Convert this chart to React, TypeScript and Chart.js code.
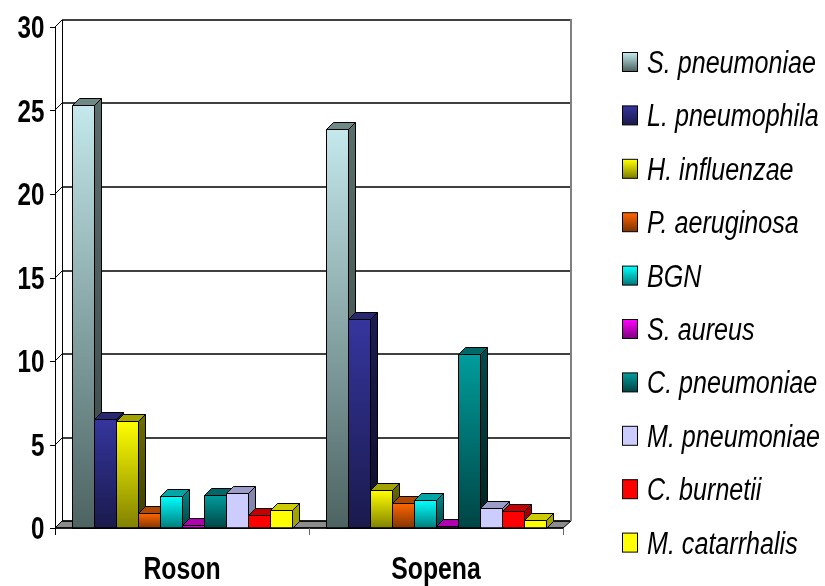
import React, { useEffect, useRef } from 'react';
import { Chart, registerables } from 'chart.js';

Chart.register(...registerables);

// ---- data ----
const categories = ['Roson', 'Sopena'];
const seriesNames = [
  'S. pneumoniae',
  'L. pneumophila',
  'H. influenzae',
  'P. aeruginosa',
  'BGN',
  'S. aureus',
  'C. pneumoniae',
  'M. pneumoniae',
  'C. burnetii',
  'M. catarrhalis',
];
const rosonValues = [25.3, 6.5, 6.4, 0.9, 1.9, 0.2, 2.0, 2.1, 0.8, 1.1];
const sopenaValues = [23.9, 12.5, 2.3, 1.5, 1.7, 0.1, 10.4, 1.2, 1.0, 0.5];
const yTickValues = [0, 5, 10, 15, 20, 25, 30];

// ---- colours per series: front gradient (top -> bottom), top face, side gradient ----
const frontTop = ['#C4E8EC', '#35359E', '#FFFF00', '#FF6600', '#00FFFF', '#FF00FF', '#009C9C', '#CCCCFF', '#FF0000', '#FFFF00'];
const frontBottom = ['#4C6361', '#1A1A4C', '#808000', '#803300', '#007A7A', '#800080', '#004444', '#CCCCFF', '#FF0000', '#FFFF00'];
const topFace = ['#6F8987', '#272772', '#A3A300', '#B34700', '#00A6A6', '#B000B0', '#006868', '#9C9CC8', '#C40000', '#CCCC00'];
const sideTop = ['#5A6E6C', '#1C1C55', '#6E6E00', '#993D00', '#008C8C', '#8C008C', '#004C4C', '#8585AD', '#A00000', '#A3A300'];
const sideBottom = ['#3A4846', '#0E0E2A', '#3A3A00', '#4D1A00', '#004040', '#400040', '#002020', '#8585AD', '#A00000', '#A3A300'];

const FAMILY = "'Liberation Sans', Arial, sans-serif";
const DEPTH = 7;

// condensed text: a sans face squeezed horizontally
function narrowText(
  ctx: CanvasRenderingContext2D,
  text: string,
  x: number,
  y: number,
  font: string,
  scaleX: number,
  align: CanvasTextAlign,
) {
  ctx.save();
  ctx.translate(x, y);
  ctx.scale(scaleX, 1);
  ctx.font = font;
  ctx.textAlign = align;
  ctx.textBaseline = 'alphabetic';
  ctx.fillStyle = '#000';
  ctx.fillText(text, 0, 0);
  ctx.restore();
}

const threeDPlugin = {
  id: 'threeD',
  beforeDatasetsDraw(chart: any) {
    const { ctx, chartArea } = chart;
    const y = chart.scales.y;
    const d = DEPTH;
    const L = chartArea.left;
    const R = chartArea.right;
    const B = chartArea.bottom;
    ctx.save();
    // floor
    ctx.beginPath();
    ctx.moveTo(L, B);
    ctx.lineTo(R, B);
    ctx.lineTo(R + d + 1, B - d);
    ctx.lineTo(L + d, B - d);
    ctx.closePath();
    ctx.fillStyle = '#8C8C8C';
    ctx.fill();
    ctx.lineWidth = 1;
    ctx.strokeStyle = '#000';
    ctx.stroke();

    // back wall gridlines and side wall diagonals
    ctx.strokeStyle = '#000';
    for (const v of yTickValues) {
      const py = Math.round(y.getPixelForValue(v));
      ctx.lineWidth = 1.6;
      ctx.beginPath();
      ctx.moveTo(L + d, py - d);
      ctx.lineTo(R + d + 1, py - d);
      ctx.stroke();
      ctx.lineWidth = 1;
      ctx.beginPath();
      ctx.moveTo(L, py);
      ctx.lineTo(L + d, py - d);
      ctx.stroke();
    }
    // back-left wall edge
    const top = Math.round(y.getPixelForValue(30));
    ctx.lineWidth = 1;
    ctx.beginPath();
    ctx.moveTo(L + d + 0.5, top - d);
    ctx.lineTo(L + d + 0.5, B - d);
    ctx.stroke();
    // right wall edge
    ctx.strokeStyle = '#808080';
    ctx.lineWidth = 2;
    ctx.beginPath();
    ctx.moveTo(R + d + 1, top - d - 1);
    ctx.lineTo(R + d + 1, B - d);
    ctx.stroke();
    ctx.restore();
  },
  beforeDatasetDraw() {
    return false;
  },
  afterDatasetsDraw(chart: any) {
    const { ctx, chartArea } = chart;
    const d = DEPTH;
    const n = chart.data.datasets.length;
    ctx.save();
    ctx.lineWidth = 1;
    ctx.strokeStyle = '#000';
    ctx.lineJoin = 'miter';
    for (let c = 0; c < categories.length; c++) {
      for (let s = 0; s < n; s++) {
        const el: any = chart.getDatasetMeta(s).data[c];
        if (!el) continue;
        const left = Math.round(el.x - el.width / 2) + 0.5;
        const right = Math.round(el.x + el.width / 2) + 0.5;
        const top = Math.round(el.y) + 0.5;
        const base = Math.round(el.base) + 0.5;

        // side face
        const sg = ctx.createLinearGradient(0, top - d, 0, base);
        sg.addColorStop(0, sideTop[s]);
        sg.addColorStop(1, sideBottom[s]);
        ctx.beginPath();
        ctx.moveTo(right, top);
        ctx.lineTo(right + d, top - d);
        ctx.lineTo(right + d, base - d);
        ctx.lineTo(right, base);
        ctx.closePath();
        ctx.fillStyle = sg;
        ctx.fill();
        ctx.stroke();

        // top face
        ctx.beginPath();
        ctx.moveTo(left, top);
        ctx.lineTo(left + d, top - d);
        ctx.lineTo(right + d, top - d);
        ctx.lineTo(right, top);
        ctx.closePath();
        ctx.fillStyle = topFace[s];
        ctx.fill();
        ctx.stroke();

        // front face
        const fg = ctx.createLinearGradient(0, top, 0, base);
        fg.addColorStop(0, frontTop[s]);
        fg.addColorStop(1, frontBottom[s]);
        ctx.beginPath();
        ctx.rect(left, top, right - left, base - top);
        ctx.fillStyle = fg;
        ctx.fill();
        ctx.stroke();
      }
    }
    // front axes
    const L = chartArea.left;
    const R = chartArea.right;
    const B = chartArea.bottom;
    const T = chartArea.top;
    ctx.strokeStyle = '#000';
    ctx.lineWidth = 1;
    ctx.beginPath();
    ctx.moveTo(L + 0.5, T);
    ctx.lineTo(L + 0.5, B + 7);
    ctx.stroke();
    ctx.lineWidth = 1.6;
    ctx.beginPath();
    ctx.moveTo(L, B);
    ctx.lineTo(R, B);
    ctx.stroke();
    // y tick marks
    ctx.lineWidth = 1;
    const ys = chart.scales.y;
    for (const v of yTickValues) {
      const py = Math.round(ys.getPixelForValue(v)) + 0.5;
      ctx.beginPath();
      ctx.moveTo(L - 5, py);
      ctx.lineTo(L, py);
      ctx.stroke();
    }
    // category separators
    ctx.strokeStyle = '#666';
    const xs = chart.scales.x;
    const bounds = [L, (xs.getPixelForValue(0) + xs.getPixelForValue(1)) / 2, R];
    for (let i = 1; i < bounds.length; i++) {
      const px = Math.round(bounds[i]) + 0.5;
      ctx.beginPath();
      ctx.moveTo(px, B);
      ctx.lineTo(px, B + 7);
      ctx.stroke();
    }
    ctx.restore();
  },
  afterDraw(chart: any) {
    const { ctx } = chart;
    // value axis labels
    const ys = chart.scales.y;
    ys.ticks.forEach((t: any) => {
      const py = ys.getPixelForValue(t.value);
      narrowText(ctx, String(t.label), 44.5, py + 11, `bold 31px ${FAMILY}`, 0.78, 'right');
    });
    // category labels
    const xs = chart.scales.x;
    categories.forEach((label, i) => {
      const px = xs.getPixelForValue(i);
      narrowText(ctx, label, px, 579, `bold 31px ${FAMILY}`, 0.8, 'center');
    });
  },
};

const legendPlugin = {
  id: 'sideLegend',
  afterDraw(chart: any) {
    const { ctx } = chart;
    const x0 = 622;
    const rowTop = 62;
    const rowStep = 53.4;
    ctx.save();
    seriesNames.forEach((name, i) => {
      const cy = rowTop + i * rowStep;
      const g = ctx.createLinearGradient(0, cy - 9, 0, cy + 9);
      g.addColorStop(0, frontTop[i]);
      g.addColorStop(1, frontBottom[i]);
      ctx.fillStyle = g;
      ctx.fillRect(x0 + 0.5, cy - 9.5, 15, 19);
      ctx.strokeStyle = '#000';
      ctx.lineWidth = 1;
      ctx.strokeRect(x0 + 0.5, cy - 9.5, 15, 19);
      narrowText(ctx, name, 647, cy + 11, `italic 31px ${FAMILY}`, 0.81, 'left');
    });
    ctx.restore();
  },
};

export default function App() {
  const canvasRef = useRef<HTMLCanvasElement | null>(null);

  useEffect(() => {
    if (!canvasRef.current) return;
    const chart = new Chart(canvasRef.current, {
      type: 'bar',
      data: {
        labels: categories,
        datasets: seriesNames.map((name, i) => ({
          label: name,
          data: [rosonValues[i], sopenaValues[i]],
          backgroundColor: frontTop[i],
          categoryPercentage: 0.866,
          barPercentage: 1,
        })),
      },
      options: {
        animation: false,
        responsive: true,
        maintainAspectRatio: false,
        layout: { padding: { top: 27, right: 262, left: 0, bottom: 0 } },
        plugins: {
          legend: { display: false },
          tooltip: { enabled: false },
        },
        scales: {
          x: {
            grid: { display: false, drawTicks: false },
            border: { display: false },
            ticks: { display: false },
            afterFit: (scale: any) => {
              scale.height = 58;
            },
          },
          y: {
            min: 0,
            max: 30,
            grid: { display: false, drawTicks: false },
            border: { display: false },
            ticks: { display: false, stepSize: 5 },
            afterFit: (scale: any) => {
              scale.width = 55;
            },
          },
        },
      },
      plugins: [threeDPlugin, legendPlugin],
    });
    return () => chart.destroy();
  }, []);

  return (
    <div style={{ position: 'absolute', left: 0, top: 0, width: 825, height: 586, background: '#fff' }}>
      <canvas ref={canvasRef} />
    </div>
  );
}
